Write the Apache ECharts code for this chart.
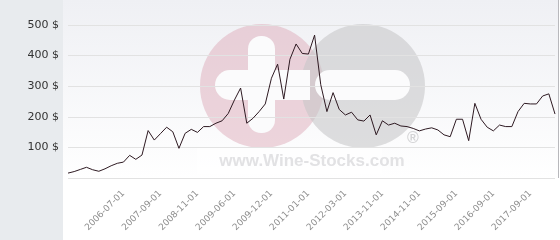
<!DOCTYPE html>
<html>
<head>
<meta charset="utf-8">
<script src="https://cdn.jsdelivr.net/npm/echarts@6/dist/echarts.min.js"></script>
<style>
html,body{margin:0;padding:0;background:#fff;}
#c{width:560px;height:240px;}
</style>
</head>
<body>
<div id="c"></div>
<script>
const dates = [
 '2005-01-01','2005-03-01','2005-05-01','2005-07-01','2005-09-01','2005-11-01','2006-01-01','2006-03-01','2006-05-01','2006-07-01',
 '2006-09-01','2006-11-01','2007-01-01','2007-04-01','2007-07-01','2007-09-01',
 '2007-11-01','2008-01-01','2008-04-01','2008-06-01','2008-09-01','2008-11-01',
 '2008-12-01','2009-01-01','2009-02-01','2009-03-01','2009-04-01','2009-06-01',
 '2009-07-01','2009-08-01','2009-09-01','2009-10-01','2009-11-01','2009-12-01',
 '2010-02-01','2010-04-01','2010-06-01','2010-09-01','2010-11-01','2011-01-01',
 '2011-03-01','2011-06-01','2011-09-01','2011-11-01','2012-01-01','2012-03-01',
 '2012-06-01','2012-09-01','2013-01-01','2013-04-01','2013-08-01','2013-11-01',
 '2014-01-01','2014-03-01','2014-05-01','2014-07-01','2014-09-01','2014-11-01',
 '2015-01-01','2015-03-01','2015-04-01','2015-06-01','2015-07-01','2015-09-01',
 '2015-11-01','2016-01-01','2016-03-01','2016-05-01','2016-07-01','2016-09-01',
 '2016-11-01','2017-01-01','2017-03-01','2017-05-01','2017-07-01','2017-09-01',
 '2017-11-01','2018-01-01','2018-03-01','2018-05-01'
];
const prices = [
 16,21,28,35,27,22,30,40,48,52,
 74,61,75,155,124,145,
 166,151,97,146,159,149,
 168,168,179,187,211,255,
 294,179,195,217,242,326,
 372,258,388,438,407,405,
 467,305,217,279,224,206,
 215,190,186,206,141,187,
 173,179,170,168,162,154,
 160,164,157,141,135,192,
 192,122,244,192,166,154,
 173,168,168,217,244,242,
 242,268,275,209
];
const labeledDates = ['2006-07-01','2007-09-01','2008-11-01','2009-06-01','2009-12-01','2011-01-01','2012-03-01','2013-11-01','2014-11-01','2015-09-01','2016-09-01','2017-09-01'];
const yTicks = [0,100,200,300,400,500];

const chart = echarts.init(document.getElementById('c'), null, {renderer:'canvas'});
const font = 'DejaVu Sans';
chart.setOption({
  animation:false,
  grid:{left:68, right:5, top:25, bottom:62},
  graphic:[
    {type:'rect', z:-20, shape:{x:0,y:0,width:63,height:240}, style:{fill:'#e8ebee'}},
    {type:'rect', z:-20, shape:{x:63,y:0,width:495,height:240},
      style:{fill:new echarts.graphic.LinearGradient(0,0,0,1,[{offset:0,color:'#eff0f4'},{offset:0.75,color:'#ffffff'},{offset:1,color:'#ffffff'}])}},
    {type:'rect', z:-20, shape:{x:558,y:0,width:1,height:178}, style:{fill:'#b8b8bc'}},
    {type:'circle', z:-10, shape:{cx:262,cy:86,r:62}, style:{fill:'rgba(222,172,186,0.5)'}},
    {type:'circle', z:-9, shape:{cx:363,cy:86,r:62}, style:{fill:'rgba(198,198,200,0.58)'}},
    {type:'rect', z:-8, shape:{x:248,y:36,width:27,height:97,r:13}, style:{fill:'#fbfbfc'}},
    {type:'rect', z:-8, shape:{x:215,y:70,width:95,height:30,r:[15,0,0,15]}, style:{fill:'#fbfbfc'}},
    {type:'rect', z:-8, shape:{x:315,y:70,width:95,height:30,r:15}, style:{fill:'#fbfbfc'}},
    {type:'rect', z:-8, shape:{x:197,y:148,width:185,height:26}, style:{fill:'rgba(255,255,255,0.6)'}},
    {type:'text', z:-7, style:{x:312,y:161,text:'www.Wine-Stocks.com',fill:'#e2e2e4',font:'bold 17px "Liberation Sans", Arial',align:'center',verticalAlign:'middle'}},
    {type:'text', z:-7, style:{x:413,y:139,text:'®',fill:'#d4d4d6',font:'bold 16px "Liberation Sans", Arial',align:'center',verticalAlign:'middle'}}
  ],
  xAxis:{
    type:'category', data:dates, boundaryGap:false,
    axisLine:{show:false}, axisTick:{show:false}, splitLine:{show:false},
    axisLabel:{rotate:45, margin:14, color:'#8e8e8e', fontSize:9, fontFamily:font,
      interval:(i,v)=>labeledDates.indexOf(v)>=0}
  },
  yAxis:{
    type:'value', min:yTicks[0], max:yTicks[yTicks.length-1], interval:100,
    axisLine:{show:false}, axisTick:{show:false},
    splitLine:{lineStyle:{color:'#e2e2e2',width:1}},
    axisLabel:{margin:9, color:'#333', fontSize:11, fontFamily:font,
      formatter:v=> v===0 ? '' : v + ' $'}
  },
  series:[{
    type:'line', data:prices, symbol:'none', z:5,
    lineStyle:{color:'#2e1a22', width:1}
  }]
});
</script>
</body>
</html>
